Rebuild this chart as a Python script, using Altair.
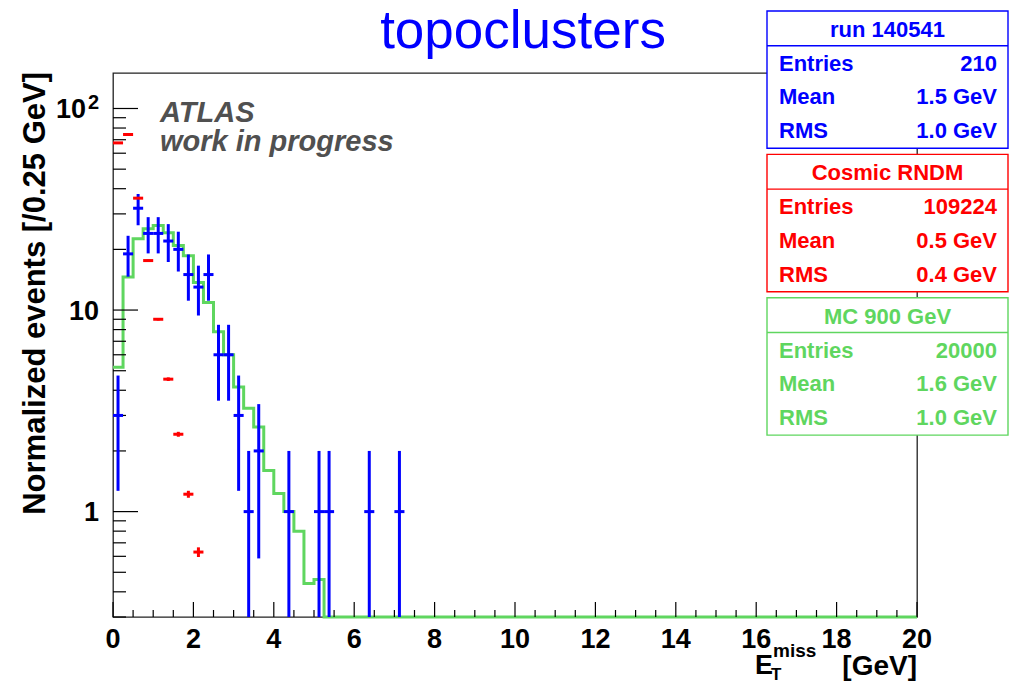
import altair as alt
import pandas as pd

FONT = "Liberation Sans"
BLUE = "#0000ff"
RED = "#ff0000"
GREEN = "#5fd65f"
GREY = "#505050"

BIN = 0.25              # GeV per bin
Y_MIN, Y_MAX = 0.3, 150  # log-scale range of the y axis
X_MIN, X_MAX = 0.0, 20.0

# Data, run 140541: bin centres [GeV] and event counts (Poisson errors)
data_x = [0.125, 0.375, 0.625, 0.875, 1.125, 1.375, 1.625, 1.875, 2.125, 2.375,
          2.625, 2.875, 3.125, 3.375, 3.625, 4.375, 5.125, 5.375, 6.375, 7.125]
data_n = [3, 19, 32, 24, 24, 22, 20, 15, 13, 15,
          6, 6, 3, 1, 2, 1, 1, 1, 1, 1]

# Cosmic random-trigger sample, normalized to the data entries
cosmic_x = [0.125, 0.375, 0.625, 0.875, 1.125, 1.375, 1.625, 1.875, 2.125]
cosmic_y = [67.5, 74.3, 35.9, 17.6, 9.0, 4.54, 2.42, 1.22, 0.63]
cosmic_entries = 109224
data_entries = 210

# MC 900 GeV, normalized contents of the 80 bins from 0 to 20 GeV
mc_y = [5.2, 14.6, 22.6, 25.3, 26.3, 24.2, 20.9, 18.6, 13.7, 10.9,
        7.8, 6.0, 4.15, 3.26, 2.63, 1.6, 1.23, 1.0, 0.80, 0.44,
        0.46, 0, 0, 0, 0, 0, 0, 0, 0, 0,
        0, 0, 0, 0, 0, 0, 0, 0, 0, 0,
        0, 0, 0, 0, 0, 0, 0, 0, 0, 0,
        0, 0, 0, 0, 0, 0, 0, 0, 0, 0,
        0, 0, 0, 0, 0, 0, 0, 0, 0, 0,
        0, 0, 0, 0, 0, 0, 0, 0, 0, 0]

# Statistics boxes
stat_titles = ["run 140541", "Cosmic RNDM", "MC 900 GeV"]
stat_entries = ["210", "109224", "20000"]
stat_mean = ["1.5 GeV", "0.5 GeV", "1.6 GeV"]
stat_rms = ["1.0 GeV", "0.4 GeV", "1.0 GeV"]
stat_colors = [BLUE, RED, GREEN]
stat_labels = ["Entries", "Mean", "RMS"]

# Axis ticks and tick labels (the 100 label is drawn as 10 with exponent 2)
x_major = [0, 2, 4, 6, 8, 10, 12, 14, 16, 18, 20]
x_labels = ["0", "2", "4", "6", "8", "10", "12", "14", "16", "18", "20"]
x_minor = [i * 0.5 for i in range(41) if (i * 0.5) not in x_major]
y_major = [1, 10, 100]
y_labels = ["1", "10", "10"]
y_exponents = ["", "", "2"]
y_minor = [0.3, 0.4, 0.5, 0.6, 0.7, 0.8, 0.9,
           2, 3, 4, 5, 6, 7, 8, 9,
           20, 30, 40, 50, 60, 70, 80, 90]

W, H = 804, 544
PAD_L, PAD_T = 113, 73

x_scale = alt.Scale(domain=[X_MIN, X_MAX], nice=False, zero=False)
y_scale = alt.Scale(type="log", domain=[Y_MIN, Y_MAX], nice=False, clamp=True)

# ---- MC histogram drawn as a step line ----
edges = [i * BIN for i in range(len(mc_y))]
mc_df = pd.DataFrame({"lo": edges + [X_MAX], "v": mc_y + [mc_y[-1]]})
mc_line = (
    alt.Chart(mc_df)
    .transform_calculate(vy=f"max(datum.v, {Y_MIN})")
    .mark_line(interpolate="step-after", color=GREEN, strokeWidth=3, clip=False)
    .encode(
        x=alt.X("lo:Q", scale=x_scale, axis=None),
        y=alt.Y("vy:Q", scale=y_scale, axis=None),
    )
)

# ---- data points with Poisson errors ----
data_df = pd.DataFrame({"x": data_x, "n": data_n})
data_base = alt.Chart(data_df).transform_calculate(
    lo=f"max(datum.n - sqrt(datum.n), {Y_MIN})",
    hi="datum.n + sqrt(datum.n)",
    xl=f"datum.x - {BIN / 2}",
    xr=f"datum.x + {BIN / 2}",
)
data_v = data_base.mark_rule(color=BLUE, strokeWidth=3).encode(
    x=alt.X("x:Q", scale=x_scale, axis=None),
    y=alt.Y("lo:Q", scale=y_scale, axis=None),
    y2="hi:Q",
)
data_h = data_base.mark_rule(color=BLUE, strokeWidth=3).encode(
    x=alt.X("xl:Q", scale=x_scale, axis=None),
    x2="xr:Q",
    y=alt.Y("n:Q", scale=y_scale, axis=None),
)

# ---- cosmic points: errors from the unnormalized counts ----
cosmic_df = pd.DataFrame({"x": cosmic_x, "v": cosmic_y})
k = data_entries / cosmic_entries
cosmic_base = alt.Chart(cosmic_df).transform_calculate(
    lo=f"datum.v - sqrt(datum.v * {k})",
    hi=f"datum.v + sqrt(datum.v * {k})",
    xl=f"datum.x - {BIN / 2}",
    xr=f"datum.x + {BIN / 2}",
)
cosmic_v = cosmic_base.mark_rule(color=RED, strokeWidth=3).encode(
    x=alt.X("x:Q", scale=x_scale, axis=None),
    y=alt.Y("lo:Q", scale=y_scale, axis=None),
    y2="hi:Q",
)
cosmic_h = cosmic_base.mark_rule(color=RED, strokeWidth=3).encode(
    x=alt.X("xl:Q", scale=x_scale, axis=None),
    x2="xr:Q",
    y=alt.Y("v:Q", scale=y_scale, axis=None),
)


# ---- inward tick marks and tick labels ----
def x_ticks(values, length):
    return alt.Chart(pd.DataFrame({"t": values})).mark_rule(
        color="black", strokeWidth=1.2
    ).encode(
        x=alt.X("t:Q", scale=x_scale, axis=None),
        y=alt.value(H),
        y2=alt.value(H - length),
    )


def y_ticks(values, length):
    return alt.Chart(pd.DataFrame({"t": values})).mark_rule(
        color="black", strokeWidth=1.2
    ).encode(
        y=alt.Y("t:Q", scale=y_scale, axis=None),
        x=alt.value(0),
        x2=alt.value(length),
    )


x_tick_text = alt.Chart(pd.DataFrame({"t": x_major, "s": x_labels})).mark_text(
    align="center", baseline="alphabetic", font=FONT, fontWeight="bold",
    fontSize=27, color="black",
).encode(
    x=alt.X("t:Q", scale=x_scale, axis=None),
    y=alt.value(H + 31),
    text="s:N",
)

y_lab_df = pd.DataFrame({"t": y_major, "s": y_labels, "e": y_exponents})
y_tick_text = (
    alt.Chart(y_lab_df)
    .transform_calculate(px="datum.e == '' ? -14 : -27")
    .mark_text(align="right", baseline="alphabetic", dy=9.7, font=FONT,
               fontWeight="bold", fontSize=27, color="black")
    .encode(
        y=alt.Y("t:Q", scale=y_scale, axis=None),
        x=alt.X("px:Q", scale=None, axis=None),
        text="s:N",
    )
)
y_tick_exp = (
    alt.Chart(y_lab_df)
    .transform_filter("datum.e != ''")
    .mark_text(align="right", baseline="alphabetic", dy=1, font=FONT,
               fontWeight="bold", fontSize=20, color="black")
    .encode(
        y=alt.Y("t:Q", scale=y_scale, axis=None),
        x=alt.value(-14),
        text="e:N",
    )
)

ticks = [x_ticks(x_major, 15), x_ticks(x_minor, 7),
         y_ticks(y_major, 25), y_ticks(y_minor, 13),
         x_tick_text, y_tick_text, y_tick_exp]


# ---- text helpers ----
def label(text, x, y, size, color="black", align="left", weight="bold",
          style="normal", angle=0, baseline="alphabetic"):
    return alt.Chart(pd.DataFrame({"t": [text]})).mark_text(
        align=align, baseline=baseline, fontSize=size, fontWeight=weight,
        fontStyle=style, font=FONT, color=color, angle=angle,
    ).encode(x=alt.value(x), y=alt.value(y), text="t:N")


texts = [
    label("topoclusters", 410, -25, 53, color=BLUE, align="center", weight="normal"),
    label("ATLAS", 47, 49, 29, color=GREY, style="italic"),
    label("work in progress", 47, 78, 29, color=GREY, style="italic"),
    label("Normalized events [/0.25 GeV]", -68, -1, 31, align="right", angle=270),
    # x-axis title: E_T^miss [GeV]
    label("E", 642, 601, 27),
    label("T", 658, 607, 17),
    label("miss", 660, 584, 19),
    label("[GeV]", 804, 602, 28, align="right"),
]

# ---- statistics boxes ----
BOX_L, BOX_R = 654, 895
BOX_TOP0, BOX_STEP, BOX_H, HEAD_H = -62, 143.4, 137.3, 34.7
rows_box, rows_head, rows_lab, rows_val = [], [], [], []
for i, (ttl, ent, mean, rms, col) in enumerate(
        zip(stat_titles, stat_entries, stat_mean, stat_rms, stat_colors)):
    top = BOX_TOP0 + i * BOX_STEP
    rows_box.append({"x1": BOX_L, "x2": BOX_R, "y1": top, "y2": top + BOX_H,
                     "yd": top + HEAD_H, "c": col})
    rows_head.append({"x": (BOX_L + BOX_R) / 2, "y": top + 25.8, "t": ttl, "c": col})
    for j, (lab, val) in enumerate(zip(stat_labels, [ent, mean, rms])):
        yb = top + 59.7 + j * 33.7
        rows_lab.append({"x": BOX_L + 12, "y": yb, "t": lab, "c": col})
        rows_val.append({"x": BOX_R - 11, "y": yb, "t": val, "c": col})

box_df = pd.DataFrame(rows_box)
boxes = alt.Chart(box_df).mark_rect(fill="white", strokeWidth=1.4).encode(
    x=alt.X("x1:Q", scale=None, axis=None), x2="x2:Q",
    y=alt.Y("y1:Q", scale=None, axis=None), y2="y2:Q",
    stroke=alt.Stroke("c:N", scale=None),
)
dividers = alt.Chart(box_df).mark_rule(strokeWidth=1.4).encode(
    x=alt.X("x1:Q", scale=None, axis=None), x2="x2:Q",
    y=alt.Y("yd:Q", scale=None, axis=None),
    stroke=alt.Stroke("c:N", scale=None),
)


def stat_text(rows, align, size):
    return alt.Chart(pd.DataFrame(rows)).mark_text(
        align=align, baseline="alphabetic", font=FONT, fontWeight="bold", fontSize=size
    ).encode(
        x=alt.X("x:Q", scale=None, axis=None),
        y=alt.Y("y:Q", scale=None, axis=None),
        text="t:N",
        color=alt.Color("c:N", scale=None),
    )


stats = [boxes, dividers,
         stat_text(rows_head, "center", 22),
         stat_text(rows_lab, "left", 22),
         stat_text(rows_val, "right", 22)]

chart = alt.layer(
    mc_line, *ticks, data_v, data_h, cosmic_v, cosmic_h, *texts, *stats
).properties(
    width=W, height=H,
    padding={"left": PAD_L, "top": PAD_T, "right": 1012 - PAD_L - W,
             "bottom": 684 - PAD_T - H},
    autosize="none",
    background="white",
).configure_view(stroke="#222222", strokeWidth=1.3)

chart.save("out.html", embed_options={"renderer": "svg", "actions": False})
